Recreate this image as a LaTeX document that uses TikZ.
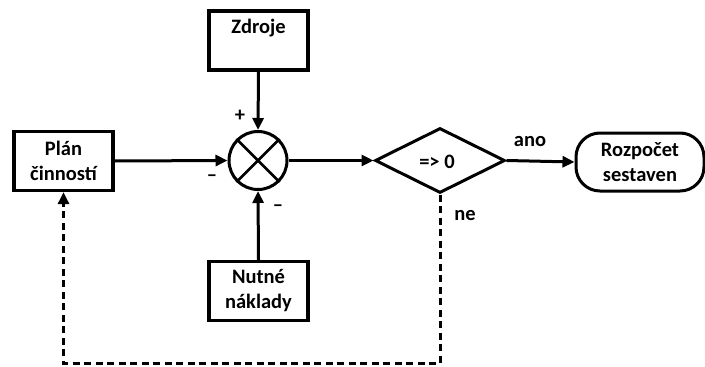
\documentclass[tikz,border=0pt]{standalone}
\usepackage{fontspec}
\setmainfont{Carlito}
\usetikzlibrary{arrows.meta,shapes.geometric}
\tikzset{
  every node/.style={font=\fontsize{20.5}{25}\selectfont\bfseries, inner sep=0pt},
  blk/.style={draw, line width=3.3pt, minimum width=99pt, minimum height=59pt, align=center},
  ln/.style={line width=3pt, -{Triangle[length=12pt,width=11pt]}},
  dln/.style={ln, dash pattern=on 7pt off 4.5pt},
  txt/.style={align=center}
}
\begin{document}
\begin{tikzpicture}[x=1pt,y=-1pt]
\useasboundingbox (0,0) rectangle (705,367);
\node[blk] (zd) at (258.5,40.5) {};
\node[txt] (zdt) at (258.5,28) {Zdroje};
\node[blk] (plan) at (63.5,161) {Plán\\činností};
\node[blk] (nut) at (258.5,291) {Nutné\\náklady};
\node[draw, circle, line width=3pt, minimum size=58pt] (sum) at (258,160.5) {};
\draw[line width=2.8pt] (sum.45) -- (sum.225) (sum.135) -- (sum.-45);
\node[draw, diamond, line width=3pt, minimum width=130pt, minimum height=65pt, aspect=2] (dec) at (440,160.5) {};
\node[txt] (dect) at (437,162) {=> 0};
\node[draw, line width=3pt, rounded corners=24pt, minimum width=128pt, minimum height=58pt, align=center] (roz) at (640,162) {Rozpočet\\sestaven};
\draw[ln] (zd.south) -- (sum.north);
\draw[ln] (plan.east) -- (sum.west);
\draw[ln] (nut.north) -- (sum.south);
\draw[ln] (sum.east) -- (dec.west);
\draw[ln] (dec.east) -- (roz.west);
\coordinate (cr) at (440,363);
\draw[dln] (dec.south) -- (cr) -| (plan.south);
\node (p1) at (240,116) {+};
\node (m1) at (212,178) {–};
\node (m2) at (278,208) {–};
\node (ano) at (530,142) {ano};
\node (ne) at (465,216) {ne};
\end{tikzpicture}
\end{document}
